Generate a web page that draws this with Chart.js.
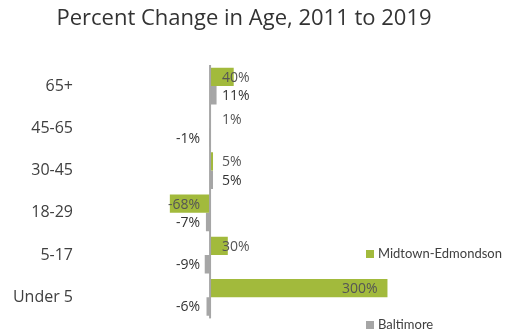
<!DOCTYPE html>
<html>
<head>
<meta charset="utf-8">
<script src="https://cdn.jsdelivr.net/npm/chart.js@4/dist/chart.umd.min.js"></script>
<style>
  html, body { margin: 0; padding: 0; background: #fff; }
  #wrap { width: 507px; height: 332px; }
</style>
</head>
<body>
<div id="wrap"><canvas id="chart"></canvas></div>
<script>
// age groups, top to bottom
var ageGroups = ["65+", "45-65", "30-45", "18-29", "5-17", "Under 5"];
// percent change 2011 -> 2019
var midtownValues = [40, 1, 5, -68, 30, 300];
var baltimoreValues = [11, -1, 5, -7, -9, -6];

var seriesNames = ["Midtown-Edmondson", "Baltimore"];
var seriesColors = ["#a2ba3c", "#a6a6a6"];
var labelColors = ["#555555", "#333333"];

var fontFamily = "'Open Sans', 'Liberation Sans', sans-serif";

// zero line + value labels
var valueLabels = {
    id: 'valueLabels',
    afterDatasetsDraw: function (chart) {
        var ctx = chart.ctx;
        var xScale = chart.scales.x;
        var zero = xScale.getPixelForValue(0);

        ctx.save();
        ctx.strokeStyle = "#a6a6a6";
        ctx.lineWidth = 2;
        ctx.beginPath();
        ctx.moveTo(zero, chart.chartArea.top);
        ctx.lineTo(zero, chart.chartArea.bottom);
        ctx.stroke();

        ctx.font = "14px " + fontFamily;
        ctx.textBaseline = "middle";
        chart.data.datasets.forEach(function (ds, di) {
            var meta = chart.getDatasetMeta(di);
            meta.data.forEach(function (bar, i) {
                var v = ds.data[i];
                var txt = v + "%";
                var w = ctx.measureText(txt).width;
                ctx.fillStyle = labelColors[di];
                if (v >= 0) {
                    // inside the end of long bars, just right of the axis otherwise
                    var x = Math.max(zero + 12, bar.x - w - 10);
                    ctx.textAlign = "left";
                    ctx.fillText(txt, x, bar.y + 1);
                } else {
                    ctx.textAlign = "right";
                    ctx.fillText(txt, zero - 10, bar.y + 1);
                }
            });
        });
        ctx.restore();
    }
};

// legend on the right, items spread apart
var sideLegend = {
    id: 'sideLegend',
    afterDraw: function (chart) {
        var ctx = chart.ctx;
        var rows = [254, 325];
        ctx.save();
        ctx.font = "13px Lato, " + fontFamily;
        ctx.textBaseline = "middle";
        ctx.textAlign = "left";
        seriesNames.forEach(function (name, i) {
            ctx.fillStyle = seriesColors[i];
            ctx.fillRect(366, rows[i] - 4, 8, 8);
            ctx.fillStyle = "#404040";
            ctx.fillText(name, 378, rows[i]);
        });
        ctx.restore();
    }
};

var chartData = {
    labels: ageGroups,
    datasets: [{
        label: seriesNames[0],
        data: midtownValues,
        backgroundColor: seriesColors[0],
        barPercentage: 1,
        categoryPercentage: 0.87
    }, {
        label: seriesNames[1],
        data: baltimoreValues,
        backgroundColor: seriesColors[1],
        barPercentage: 1,
        categoryPercentage: 0.87
    }]
};

new Chart(document.getElementById('chart'), {
    type: 'bar',
    data: chartData,
    options: {
        indexAxis: 'y',
        responsive: true,
        maintainAspectRatio: false,
        animation: false,
        layout: { padding: { left: 0, right: 19, top: 0, bottom: 12 } },
        scales: {
            x: {
                display: false,
                min: -225,
                max: 470
            },
            y: {
                afterFit: function (scale) { scale.width = 77; },
                border: { display: false },
                grid: { display: false, drawTicks: false },
                ticks: {
                    padding: 4,
                    color: "#404040",
                    font: { family: fontFamily, size: 16 }
                }
            }
        },
        plugins: {
            legend: { display: false },
            tooltip: { enabled: false },
            title: {
                display: true,
                text: "Percent Change in Age, 2011 to 2019",
                color: "#333333",
                font: { family: fontFamily, size: 22, weight: 'normal' },
                padding: { top: 6, bottom: 32.6 }
            }
        }
    },
    plugins: [valueLabels, sideLegend]
});
</script>
</body>
</html>
